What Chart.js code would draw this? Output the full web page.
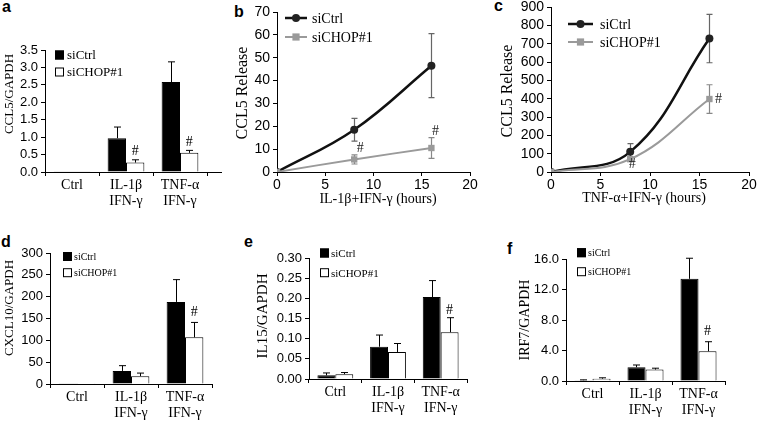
<!DOCTYPE html>
<html><head><meta charset="utf-8">
<script src="https://cdn.jsdelivr.net/npm/chart.js@4.4.0/dist/chart.umd.min.js"></script>
<style>
html,body{margin:0;padding:0;background:#fff}
body{width:757px;height:428px;overflow:hidden;position:relative}
canvas{position:absolute}
.pl{position:absolute;font:bold 16px "Liberation Sans",Arial,sans-serif;line-height:16px;color:#000}
</style></head><body>
<div class="pl" style="left:2px;top:-1px">a</div>
<div class="pl" style="left:234px;top:4px">b</div>
<div class="pl" style="left:494px;top:-2px">c</div>
<div class="pl" style="left:1px;top:234px">d</div>
<div class="pl" style="left:244px;top:234px">e</div>
<div class="pl" style="left:507px;top:241px">f</div>
<script>
// ---------- data ----------
const barCategories = ['Ctrl', ['IL-1β', 'IFN-γ'], ['TNF-α', 'IFN-γ']];
const seriesNames = ['siCtrl', 'siCHOP#1'];
const hours = [0, 8, 16];
const hourTicks = [0, 5, 10, 15, 20];
const hourTickLabels = ['0', '5', '10', '15', '20'];

// a: CCL5/GAPDH
const ccl5MrnaCtrl = [0.02, 0.97, 2.58];
const ccl5MrnaCtrlErr = [0, 0.32, 0.58];
const ccl5MrnaChop = [0.02, 0.27, 0.55];
const ccl5MrnaChopErr = [0, 0.08, 0.07];
const ccl5MrnaHash = [1, 2];
const ccl5MrnaTicks = [0, 0.5, 1, 1.5, 2, 2.5, 3, 3.5];
const ccl5MrnaTickLabels = ['0.0', '0.5', '1.0', '1.5', '2.0', '2.5', '3.0', '3.5'];

// b: CCL5 release, IL-1β+IFN-γ
const relIlCtrl = [0, 18.5, 46.5];
const relIlCtrlErr = [0, 5, 14];
const relIlChop = [0, 5.5, 10.5];
const relIlChopErr = [0, 2, 4.5];
const relIlHash = [1, 2];
const relIlTicks = [0, 10, 20, 30, 40, 50, 60, 70];
const relIlTickLabels = ['0', '10', '20', '30', '40', '50', '60', '70'];

// c: CCL5 release, TNF-α+IFN-γ
const relTnfCtrl = [0, 110, 728];
const relTnfCtrlErr = [0, 45, 132];
const relTnfChop = [0, 70, 398];
const relTnfChopErr = [0, 12, 78];
const relTnfHash = [1, 2];
const relTnfTicks = [0, 100, 200, 300, 400, 500, 600, 700, 800, 900];
const relTnfTickLabels = ['0', '100', '200', '300', '400', '500', '600', '700', '800', '900'];

// d: CXCL10/GAPDH
const cxclCtrl = [2, 30, 188];
const cxclCtrlErr = [0, 12, 51];
const cxclChop = [2, 18, 107];
const cxclChopErr = [0, 7, 34];
const cxclHash = [2];
const cxclTicks = [0, 50, 100, 150, 200, 250, 300];
const cxclTickLabels = ['0', '50', '100', '150', '200', '250', '300'];

// e: IL15/GAPDH
const il15Ctrl = [0.009, 0.08, 0.203];
const il15CtrlErr = [0.006, 0.029, 0.041];
const il15Chop = [0.012, 0.067, 0.116];
const il15ChopErr = [0.004, 0.021, 0.036];
const il15Hash = [2];
const il15Ticks = [0, 0.05, 0.10, 0.15, 0.20, 0.25, 0.30];
const il15TickLabels = ['0.00', '0.05', '0.10', '0.15', '0.20', '0.25', '0.30'];

// f: IRF7/GAPDH
const irf7Ctrl = [0.1, 1.8, 13.4];
const irf7CtrlErr = [0.05, 0.3, 2.7];
const irf7Chop = [0.3, 1.5, 3.9];
const irf7ChopErr = [0.12, 0.18, 1.25];
const irf7Hash = [2];
const irf7Ticks = [0, 4, 8, 12, 16];
const irf7TickLabels = ['0.0', '4.0', '8.0', '12.0', '16.0'];

// ---------- drawing helpers ----------
const SERIF = '"Liberation Serif", "Times New Roman", serif';
const SANS = '"Liberation Sans", Arial, sans-serif';

function makePlugins(p, box) {
  const ox = box.x, oy = box.y;
  return [
    {
      id: 'errorBars',
      beforeDatasetsDraw(chart) { if (p.kind === 'line') drawErr(chart); },
      afterDatasetsDraw(chart) { if (p.kind === 'bar') drawErr(chart); }
    },
    {
      id: 'extras',
      afterDraw(chart) {
        const ctx = chart.ctx;
        const ys = chart.scales.y;
        if (p.axisExt) {
          ctx.save(); ctx.strokeStyle = '#000'; ctx.lineWidth = 1;
          const yb = Math.round(chart.chartArea.bottom) + 0.5;
          ctx.beginPath(); ctx.moveTo(chart.chartArea.right, yb); ctx.lineTo(chart.chartArea.right + p.axisExt, yb); ctx.stroke();
          ctx.restore();
        }
        p.texts.forEach(t => {
          ctx.save(); ctx.font = t.font; ctx.fillStyle = '#000';
          ctx.textAlign = 'center'; ctx.textBaseline = 'middle';
          ctx.translate(t.x - ox, t.y - oy);
          if (t.rot) ctx.rotate(-Math.PI / 2);
          ctx.fillText(t.text, 0, 0); ctx.restore();
        });
        const L = p.legend;
        chart.data.datasets.forEach((ds, i) => {
          const x = L.x - ox, y = L.ys[i] - oy;
          ctx.save();
          if (p.kind === 'bar') {
            ctx.fillStyle = ds.backgroundColor;
            ctx.fillRect(x, y - L.size / 2, L.size, L.size);
            ctx.strokeStyle = '#000'; ctx.lineWidth = 1;
            ctx.strokeRect(x + 0.5, y - L.size / 2 + 0.5, L.size - 1, L.size - 1);
            ctx.font = L.font; ctx.fillStyle = '#000'; ctx.textBaseline = 'middle';
            ctx.fillText(ds.label, x + L.size + L.gap, y + 1);
          } else {
            ctx.strokeStyle = ds.borderColor; ctx.lineWidth = ds.borderWidth;
            ctx.beginPath(); ctx.moveTo(x, y); ctx.lineTo(x + L.len, y); ctx.stroke();
            ctx.fillStyle = ds.pointBackgroundColor;
            const cx = x + L.len / 2;
            if (ds.pointStyle === 'rect') {
              const s = ds.pointRadius * 1.6;
              ctx.fillRect(cx - s / 2, y - s / 2, s, s);
            } else {
              ctx.beginPath(); ctx.arc(cx, y, ds.pointRadius, 0, Math.PI * 2); ctx.fill();
            }
            ctx.font = L.font; ctx.fillStyle = '#000'; ctx.textBaseline = 'middle';
            ctx.fillText(ds.label, x + L.len + L.gap, y + 1);
          }
          ctx.restore();
        });
        chart.data.datasets.forEach((ds, di) => {
          if (!ds.hashes) return;
          const meta = chart.getDatasetMeta(di);
          ds.hashes.forEach((idx, k) => {
            const el = meta.data[idx];
            const raw = ds.data[idx];
            const v = typeof raw === 'object' ? raw.y : raw;
            const h = p.hashPos[k];
            const ref = h.ref === 'point' ? el.y : ys.getPixelForValue(v + (ds.errors ? ds.errors[idx] : 0));
            ctx.save(); ctx.font = p.hashFont; ctx.fillStyle = p.hashColor || '#000';
            ctx.textAlign = 'center'; ctx.textBaseline = 'middle';
            ctx.fillText('#', el.x + h.dx, ref + h.dy);
            ctx.restore();
          });
        });
      }
    }
  ];
  function drawErr(chart) {
    const ctx = chart.ctx, ys = chart.scales.y;
    chart.data.datasets.forEach((ds, di) => {
      if (!ds.errors) return;
      const meta = chart.getDatasetMeta(di);
      ctx.save();
      ctx.strokeStyle = ds.errColor; ctx.lineWidth = ds.errWidth;
      meta.data.forEach((el, i) => {
        const e = ds.errors[i]; if (!e) return;
        const raw = ds.data[i];
        const v = typeof raw === 'object' ? raw.y : raw;
        const x = Math.round(el.x) + 0.5;
        const yTop = ys.getPixelForValue(v + e);
        const yBot = p.kind === 'line' ? ys.getPixelForValue(v - e) : el.y;
        const cap = ds.errCap;
        ctx.beginPath();
        ctx.moveTo(x, yTop); ctx.lineTo(x, yBot);
        ctx.moveTo(x - cap, yTop); ctx.lineTo(x + cap, yTop);
        if (p.kind === 'line') { ctx.moveTo(x - cap, yBot); ctx.lineTo(x + cap, yBot); }
        ctx.stroke();
      });
      ctx.restore();
    });
  }
}

function yScale(ticks, labels, size, yW) {
  return {
    type: 'linear', min: ticks[0], max: ticks[ticks.length - 1],
    afterBuildTicks: s => { s.ticks = ticks.map(v => ({ value: v })); },
    ticks: { callback: (v, i) => labels[i], font: { family: SANS, size: size }, color: '#000', padding: 3, autoSkip: false },
    grid: { drawOnChartArea: false, tickLength: 4, color: '#000', lineWidth: 1 },
    border: { color: '#000', width: 1 },
    afterFit: s => { s.width = yW; s.paddingTop = 0; s.paddingBottom = 0; }
  };
}

function panel(p) {
  const box = p.box, area = p.area;
  const cv = document.createElement('canvas');
  cv.width = box.w; cv.height = box.h;
  cv.style.left = box.x + 'px'; cv.style.top = box.y + 'px';
  cv.style.width = box.w + 'px'; cv.style.height = box.h + 'px';
  document.body.appendChild(cv);
  const yW = area.l - box.x, xH = box.y + box.h - area.b;
  const padTop = area.t - box.y, padRight = box.x + box.w - area.r;
  let xScale, datasets, labels;
  if (p.kind === 'bar') {
    labels = barCategories;
    xScale = {
      type: 'category', offset: true,
      grid: { offset: true, drawOnChartArea: false, tickLength: 4, color: '#000' },
      border: { color: '#000', width: 1 },
      ticks: { font: { family: SERIF, size: 14, lineHeight: 1.1 }, color: '#000', padding: 2, maxRotation: 0, autoSkip: false },
      afterFit: s => { s.height = xH; s.paddingLeft = 0; s.paddingRight = 0; }
    };
    datasets = [
      { label: seriesNames[0], data: p.ctrl, errors: p.ctrlErr, backgroundColor: '#000', borderColor: '#000', borderWidth: 1,
        errColor: '#000', errWidth: 1, errCap: 3.5, categoryPercentage: 0.68, barPercentage: 1.0 },
      { label: seriesNames[1], data: p.chop, errors: p.chopErr, hashes: p.hash, backgroundColor: '#fff', borderColor: '#000', borderWidth: 1,
        errColor: '#000', errWidth: 1, errCap: 3.5, categoryPercentage: 0.68, barPercentage: 1.0 }
    ];
  } else {
    xScale = {
      type: 'linear', min: 0, max: 20,
      afterBuildTicks: s => { s.ticks = hourTicks.map(v => ({ value: v })); },
      ticks: { callback: (v, i) => hourTickLabels[i], font: { family: SANS, size: p.tickSize }, color: '#000', padding: 1, autoSkip: false, maxRotation: 0 },
      grid: { drawOnChartArea: false, tickLength: 4, color: '#000' },
      border: { color: '#000', width: 1 },
      afterFit: s => { s.height = xH; s.paddingLeft = 0; s.paddingRight = 0; }
    };
    datasets = [
      { label: seriesNames[0], data: hours.map((h, i) => ({ x: h, y: p.ctrl[i] })), errors: p.ctrlErr,
        borderColor: '#111', borderWidth: 2.5, pointStyle: 'circle', pointRadius: 4, pointBackgroundColor: '#222', pointBorderColor: '#222',
        pointBorderWidth: 0, tension: 0.4, order: 1, errColor: '#666', errWidth: 1.2, errCap: 3 },
      { label: seriesNames[1], data: hours.map((h, i) => ({ x: h, y: p.chop[i] })), errors: p.chopErr, hashes: p.hash,
        borderColor: '#9a9a9a', borderWidth: 2, pointStyle: 'rect', pointRadius: 4.5, pointBackgroundColor: '#9a9a9a', pointBorderColor: '#9a9a9a',
        pointBorderWidth: 0, tension: 0.4, order: 0, errColor: '#888', errWidth: 1.2, errCap: 3 }
    ];
  }
  new Chart(cv, {
    type: p.kind,
    data: { labels: labels, datasets: datasets },
    options: {
      responsive: false, animation: false, devicePixelRatio: 1,
      layout: { padding: { left: 0, top: padTop, right: padRight, bottom: 0 } },
      plugins: { legend: { display: false }, tooltip: { enabled: false } },
      scales: { x: xScale, y: yScale(p.ticks, p.tickLabels, p.tickSize, yW) }
    },
    plugins: makePlugins(p, box)
  });
}

// a
panel({
  kind: 'bar', box: { x: 0, y: 30, w: 232, h: 190 }, area: { l: 45, t: 50, r: 207, b: 172 }, axisExt: 15,
  ctrl: ccl5MrnaCtrl, ctrlErr: ccl5MrnaCtrlErr, chop: ccl5MrnaChop, chopErr: ccl5MrnaChopErr, hash: ccl5MrnaHash,
  ticks: ccl5MrnaTicks, tickLabels: ccl5MrnaTickLabels, tickSize: 13,
  texts: [{ text: 'CCL5/GAPDH', x: 10, y: 94, rot: true, font: '13px ' + SERIF }],
  legend: { x: 55, ys: [55, 72], size: 9, gap: 3, font: '13px ' + SERIF },
  hashFont: '14px ' + SERIF, hashPos: [{ dx: 0, dy: -8 }, { dx: 0, dy: -8 }]
});
// b
panel({
  kind: 'line', box: { x: 232, y: 0, w: 258, h: 215 }, area: { l: 277, t: 12, r: 470, b: 172 },
  ctrl: relIlCtrl, ctrlErr: relIlCtrlErr, chop: relIlChop, chopErr: relIlChopErr, hash: relIlHash,
  ticks: relIlTicks, tickLabels: relIlTickLabels, tickSize: 14,
  texts: [{ text: 'CCL5 Release', x: 243, y: 93, rot: true, font: '16px ' + SERIF },
          { text: 'IL-1β+IFN-γ (hours)', x: 378, y: 199, font: '14px ' + SERIF }],
  legend: { x: 285, ys: [18, 37], len: 22, gap: 5, font: '14px ' + SERIF },
  hashFont: '14px ' + SERIF, hashColor: '#222', hashPos: [{ dx: 6, dy: -7 }, { dx: 4, dy: -6 }]
});
// c
panel({
  kind: 'line', box: { x: 490, y: 0, w: 267, h: 215 }, area: { l: 551, t: 7, r: 749, b: 172 },
  ctrl: relTnfCtrl, ctrlErr: relTnfCtrlErr, chop: relTnfChop, chopErr: relTnfChopErr, hash: relTnfHash,
  ticks: relTnfTicks, tickLabels: relTnfTickLabels, tickSize: 14,
  texts: [{ text: 'CCL5 Release', x: 508, y: 91, rot: true, font: '16px ' + SERIF },
          { text: 'TNF-α+IFN-γ (hours)', x: 644, y: 198, font: '14px ' + SERIF }],
  legend: { x: 568, ys: [24, 42], len: 25, gap: 7, font: '14px ' + SERIF },
  hashFont: '14px ' + SERIF, hashColor: '#222', hashPos: [{ ref: 'point', dx: 2, dy: 5 }, { ref: 'point', dx: 9, dy: 0 }]
});
// d
panel({
  kind: 'bar', box: { x: 0, y: 235, w: 245, h: 193 }, area: { l: 50, t: 253, r: 212, b: 384 },
  ctrl: cxclCtrl, ctrlErr: cxclCtrlErr, chop: cxclChop, chopErr: cxclChopErr, hash: cxclHash,
  ticks: cxclTicks, tickLabels: cxclTickLabels, tickSize: 13,
  texts: [{ text: 'CXCL10/GAPDH', x: 10, y: 308, rot: true, font: '13px ' + SERIF }],
  legend: { x: 63, ys: [256.5, 272.7], size: 9, gap: 2, font: '10px ' + SERIF },
  hashFont: '14px ' + SERIF, hashPos: [{ dx: 0, dy: -10 }]
});
// e
panel({
  kind: 'bar', box: { x: 245, y: 235, w: 255, h: 193 }, area: { l: 309, t: 258, r: 467, b: 379 },
  ctrl: il15Ctrl, ctrlErr: il15CtrlErr, chop: il15Chop, chopErr: il15ChopErr, hash: il15Hash,
  ticks: il15Ticks, tickLabels: il15TickLabels, tickSize: 13,
  texts: [{ text: 'IL15/GAPDH', x: 263, y: 316, rot: true, font: '15px ' + SERIF }],
  legend: { x: 320, ys: [253, 272.7], size: 9, gap: 2, font: '11px ' + SERIF },
  hashFont: '14px ' + SERIF, hashPos: [{ dx: 0, dy: -7 }]
});
// f
panel({
  kind: 'bar', box: { x: 500, y: 235, w: 257, h: 193 }, area: { l: 566, t: 259, r: 725, b: 381 },
  ctrl: irf7Ctrl, ctrlErr: irf7CtrlErr, chop: irf7Chop, chopErr: irf7ChopErr, hash: irf7Hash,
  ticks: irf7Ticks, tickLabels: irf7TickLabels, tickSize: 13,
  texts: [{ text: 'IRF7/GAPDH', x: 525, y: 320, rot: true, font: '14px ' + SERIF }],
  legend: { x: 577, ys: [252.7, 271.7], size: 9, gap: 2, font: '10px ' + SERIF },
  hashFont: '14px ' + SERIF, hashPos: [{ dx: 0, dy: -10 }]
});
</script>
</body></html>
